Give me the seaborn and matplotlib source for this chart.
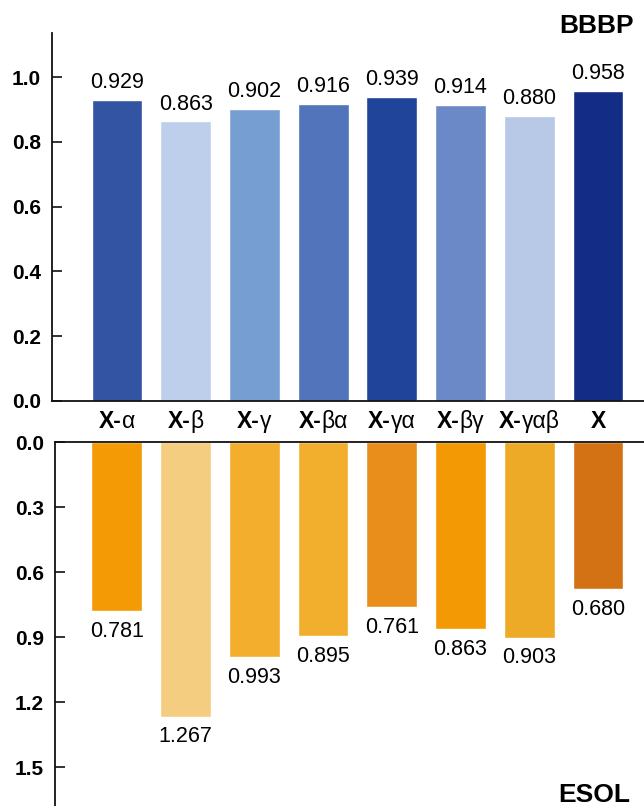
import numpy as np
import pandas as pd
import seaborn as sns
import matplotlib.pyplot as plt
from matplotlib.offsetbox import TextArea, HPacker, AnnotationBbox
from matplotlib.transforms import blended_transform_factory

models = ['X-α', 'X-β', 'X-γ', 'X-βα', 'X-γα', 'X-βγ', 'X-γαβ', 'X']
suffixes = ['α', 'β', 'γ', 'βα', 'γα', 'βγ', 'γαβ', '']
bbbp = [0.929, 0.863, 0.902, 0.916, 0.939, 0.914, 0.880, 0.958]
esol = [0.781, 1.267, 0.993, 0.895, 0.761, 0.863, 0.903, 0.680]

BLUES = ['#3353A3', '#BDCFEB', '#779ED2', '#5174BA', '#1F4499', '#6A89C6', '#B7C9E6', '#132C86']
ORANGES = ['#F39A05', '#F5CD80', '#F2AE2C', '#F2AF2E', '#E98E1A', '#F39904', '#ECAA27', '#D37214']

sns.set_style('ticks')
plt.rcParams['font.family'] = ['Liberation Sans', 'DejaVu Sans']
plt.rcParams['text.color'] = 'black'
plt.rcParams['axes.edgecolor'] = '#111111'
plt.rcParams['ytick.color'] = '#111111'
plt.rcParams['ytick.labelcolor'] = 'black'

df = pd.DataFrame({'model': models, 'BBBP': bbbp, 'ESOL': esol})

fig = plt.figure(figsize=(6.44, 8.06), dpi=100)
ax1 = fig.add_axes([0.0807, 0.5025, 0.9193, 0.4565])
ax2 = fig.add_axes([0.0854, 0.0, 0.9146, 0.4516])

sns.barplot(data=df, x='model', y='BBBP', hue='model', palette=BLUES, saturation=1,
            width=0.74, legend=False, ax=ax1)
sns.barplot(data=df, x='model', y='ESOL', hue='model', palette=ORANGES, saturation=1,
            width=0.74, legend=False, ax=ax2)

# top panel
ax1.set_ylim(0, 1.136)
ax1.set_xlim(-0.946, 7.67)
ax1.set_yticks(np.arange(0, 1.01, 0.2))
ax1.set_yticklabels([f'{t:.1f}' for t in np.arange(0, 1.01, 0.2)])
for i, v in enumerate(bbbp):
    ax1.annotate(f'{v:.3f}', (i, v), xytext=(0, 5), textcoords='offset points',
                 ha='center', va='bottom', fontsize=15.5, color='black')

# bottom panel (inverted)
ax2.set_ylim(1.68, 0)
ax2.set_xlim(-0.90, 7.67)
ax2.set_yticks(np.arange(0, 1.51, 0.3))
ax2.set_yticklabels([f'{t:.1f}' for t in np.arange(0, 1.51, 0.3)])
for i, v in enumerate(esol):
    ax2.annotate(f'{v:.3f}', (i, v), xytext=(0, -7), textcoords='offset points',
                 ha='center', va='top', fontsize=15.5, color='black')

for ax in (ax1, ax2):
    ax.set_xlabel('')
    ax.set_ylabel('')
    ax.set_facecolor('none')
    ax.tick_params(axis='y', direction='in', length=7, width=1.2, pad=8, labelsize=15)
    ax.tick_params(axis='x', bottom=False, top=False, labelbottom=False, labeltop=False)
    for lbl in ax.get_yticklabels():
        lbl.set_fontweight('bold')
    ax.spines['right'].set_visible(False)
    ax.spines['left'].set_linewidth(1.3)

ax1.spines['top'].set_visible(False)
ax1.spines['bottom'].set_linewidth(1.3)
ax2.spines['bottom'].set_visible(False)
ax2.spines['top'].set_linewidth(1.3)

# category labels between the panels: bold "X-" + regular greek suffix
trans = blended_transform_factory(ax1.transData, fig.transFigure)
for i, suf in enumerate(suffixes):
    parts = [TextArea('X-' if suf else 'X', textprops=dict(fontsize=16.5, fontweight='bold', color='black'))]
    if suf:
        parts.append(TextArea(suf, textprops=dict(fontsize=16.5, color='black')))
    box = HPacker(children=parts, pad=0, sep=0, align='baseline')
    ab = AnnotationBbox(box, (i, 1 - 422 / 806), xycoords=trans, frameon=False,
                        box_alignment=(0.5, 0.5), annotation_clip=False)
    fig.add_artist(ab)

fig.text(0.984, 1 - 26 / 806, 'BBBP', ha='right', va='center', fontsize=19, fontweight='bold')
fig.text(0.978, 1 - 795 / 806, 'ESOL', ha='right', va='center', fontsize=19, fontweight='bold')

fig.savefig('out.png', dpi=100)
